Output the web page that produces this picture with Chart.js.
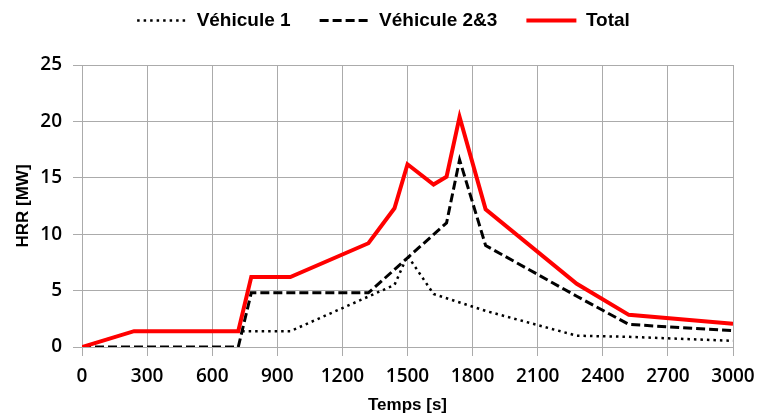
<!DOCTYPE html>
<html>
<head>
<meta charset="utf-8">
<script src="https://cdn.jsdelivr.net/npm/chart.js@4.4.1/dist/chart.umd.min.js"></script>
<style>
  html, body { margin: 0; padding: 0; background: #ffffff; }
  #wrap { width: 758px; height: 416px; position: relative; }
</style>
</head>
<body>
<div id="wrap"><canvas id="c" width="758" height="416"></canvas></div>
<script>
// Series: Véhicule 1
const v1Time = [0, 240, 960, 1440, 1500, 1620, 1860, 2280, 2520, 3000];
const v1Hrr  = [0, 1.4, 1.4, 5.5, 8.1, 4.7, 3.2, 1.0, 0.9, 0.55];
// Series: Véhicule 2&3
const v2Time = [0, 720, 780, 1320, 1680, 1740, 1860, 2280, 2520, 3000];
const v2Hrr  = [0, 0, 4.8, 4.8, 11.0, 16.6, 9.0, 4.5, 2.0, 1.45];
// Series: Total
const totTime = [0, 240, 720, 780, 960, 1320, 1440, 1500, 1620, 1680, 1740, 1860, 2280, 2520, 3000];
const totHrr  = [0, 1.4, 1.4, 6.2, 6.2, 9.2, 12.3, 16.2, 14.4, 15.1, 20.4, 12.2, 5.6, 2.85, 2.05];
// Labels
const seriesNames = ['Véhicule 1', 'Véhicule 2&3', 'Total'];
const xTicks = [0, 300, 600, 900, 1200, 1500, 1800, 2100, 2400, 2700, 3000];
const yTicks = [0, 5, 10, 15, 20, 25];
const xTitle = 'Temps [s]';
const yTitle = 'HRR [MW]';

const pts = (xs, ys) => xs.map((x, i) => ({ x: x, y: ys[i] }));

const FONT = '"Liberation Sans", Arial, sans-serif';
const TICK_FONT = '"Open Sans", "Liberation Sans", Arial, sans-serif';
const GRID = '#ababab';
const LEGEND_EXTRA = 25;
const LEGEND_SHIFT = 17;

const legendSpace = {
  id: 'legendSpace',
  afterInit(chart) {
    const lg = chart.legend;
    if (!lg) return;
    const origFit = lg.fit.bind(lg);
    lg.fit = function () { origFit(); this.height += LEGEND_EXTRA; };
    const origDraw = lg.draw.bind(lg);
    lg.draw = function () {
      const ctx = this.ctx;
      ctx.save();
      ctx.translate(LEGEND_SHIFT, 0);
      origDraw();
      ctx.restore();
    };
  }
};

new Chart(document.getElementById('c'), {
  type: 'line',
  plugins: [legendSpace],
  data: {
    datasets: [
      {
        label: seriesNames[0], data: pts(v1Time, v1Hrr), order: 2,
        borderColor: '#000000', borderWidth: 2.5, borderDash: [2.5, 4], borderCapStyle: 'butt',
        pointRadius: 0, fill: false, tension: 0
      },
      {
        label: seriesNames[1], data: pts(v2Time, v2Hrr), order: 1,
        borderColor: '#000000', borderWidth: 3, borderDash: [9, 4], borderCapStyle: 'butt',
        pointRadius: 0, fill: false, tension: 0
      },
      {
        label: seriesNames[2], data: pts(totTime, totHrr), order: 0,
        borderColor: '#ff0000', borderWidth: 4, borderJoinStyle: 'miter',
        pointRadius: 0, fill: false, tension: 0
      }
    ]
  },
  options: {
    responsive: false,
    animation: false,
    devicePixelRatio: 1,
    layout: { padding: { left: 0, right: 25, top: -18, bottom: 0 } },
    plugins: {
      tooltip: { enabled: false },
      legend: {
        position: 'top',
        align: 'center',
        labels: {
          usePointStyle: true,
          pointStyle: 'line',
          pointStyleWidth: 50,
          boxHeight: 19,
          padding: 29,
          color: '#000000',
          font: { family: FONT, size: 19, weight: 'bold' },
          sort: (a, b) => a.datasetIndex - b.datasetIndex,
          generateLabels: (chart) => {
            const items = Chart.defaults.plugins.legend.labels.generateLabels(chart);
            items.forEach((it) => {
              const ds = chart.data.datasets[it.datasetIndex];
              it.lineDash = ds.borderDash || [];
              it.lineCap = ds.borderCapStyle || 'butt';
              it.lineWidth = ds.borderWidth;
              it.strokeStyle = ds.borderColor;
              it.fillStyle = 'rgba(0,0,0,0)';
            });
            return items;
          }
        }
      }
    },
    scales: {
      x: {
        type: 'linear', min: 0, max: 3000,
        afterBuildTicks: (s) => { s.ticks = xTicks.map(v => ({ value: v })); },
        afterFit: (s) => { s.height = 69; s.paddingLeft = 0; s.paddingRight = 0; },
        ticks: {
          color: '#000000', padding: 9, maxRotation: 0,
          font: { family: TICK_FONT, size: 19, weight: '600' },
          callback: (v) => String(v)
        },
        grid: { color: GRID, lineWidth: 1, tickLength: 9, drawTicks: true },
        border: { color: GRID, width: 1 },
        title: {
          display: true, text: xTitle, color: '#000000',
          font: { family: FONT, size: 17, weight: 'bold' },
          padding: { top: 0, bottom: 0 }
        }
      },
      y: {
        type: 'linear', min: 0, max: 25,
        afterBuildTicks: (s) => { s.ticks = yTicks.map(v => ({ value: v })); },
        afterFit: (s) => { s.width = 82; },
        ticks: {
          color: '#000000', padding: 11,
          font: { family: TICK_FONT, size: 19, weight: '600' },
          callback: (v) => String(v)
        },
        grid: { color: GRID, lineWidth: 1, tickLength: 9, drawTicks: true },
        border: { color: GRID, width: 1 },
        title: {
          display: true, text: yTitle, color: '#000000',
          font: { family: FONT, size: 17, weight: 'bold' },
          padding: { top: 13, bottom: 0 }
        }
      }
    }
  }
});
</script>
</body>
</html>
